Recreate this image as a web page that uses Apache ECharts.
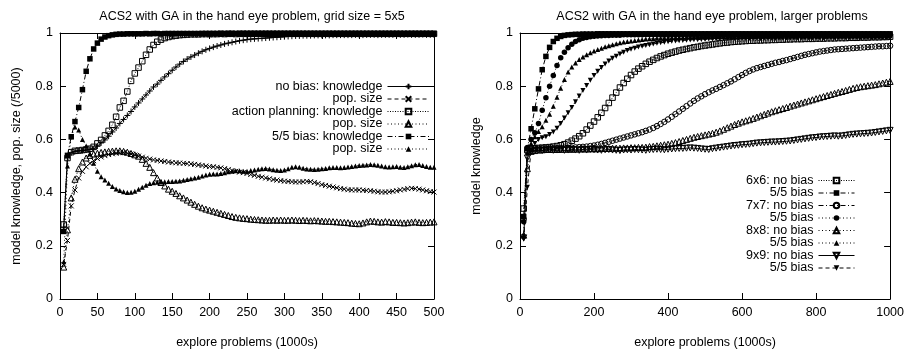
<!DOCTYPE html>
<html><head><meta charset="utf-8">
<script src="https://cdn.jsdelivr.net/npm/echarts@6/dist/echarts.min.js"></script>
<style>html,body{margin:0;padding:0;background:#fff}#c{width:907px;height:354px}</style>
</head><body><div id="c"></div>
<script>
// ---------- x sample points ----------
const xLeft = [5,10,15,20,25,30,35,40,45,50,55,60,65,70,75,80,85,90,95,100,
105,110,115,120,125,130,135,140,145,150,155,160,165,170,175,180,185,190,195,200,
205,210,215,220,225,230,235,240,245,250,255,260,265,270,275,280,285,290,295,300,
305,310,315,320,325,330,335,340,345,350,355,360,365,370,375,380,385,390,395,400,
405,410,415,420,425,430,435,440,445,450,455,460,465,470,475,480,485,490,495,500];
const xRight = [10,20,30,40,50,60,70,80,90,100,110,120,130,140,150,160,170,180,190,200,
210,220,230,240,250,260,270,280,290,300,310,320,330,340,350,360,370,380,390,400,
410,420,430,440,450,460,470,480,490,500,510,520,530,540,550,560,570,580,590,600,
610,620,630,640,650,660,670,680,690,700,710,720,730,740,750,760,770,780,790,800,
810,820,830,840,850,860,870,880,890,900,910,920,930,940,950,960,970,980,990,1000];

// ---------- left panel: grid size 5x5 ----------
const noBiasKnowledge = [0.27,0.53,0.55,0.555,0.557,0.558,0.56,0.562,0.565,0.575,
0.587,0.598,0.612,0.628,0.643,0.66,0.675,0.69,0.705,0.722,
0.737,0.752,0.767,0.782,0.797,0.808,0.822,0.835,0.847,0.86,
0.872,0.883,0.893,0.902,0.91,0.917,0.924,0.931,0.937,0.942,
0.947,0.951,0.955,0.959,0.962,0.965,0.968,0.971,0.973,0.975,
0.977,0.978,0.979,0.98,0.981,0.982,0.983,0.984,0.985,0.986,
0.987,0.988,0.989,0.989,0.99,0.99,0.99,0.991,0.991,0.991,
0.991,0.991,0.992,0.992,0.992,0.992,0.992,0.992,0.993,0.992,
0.992,0.993,0.993,0.993,0.992,0.993,0.993,0.993,0.993,0.993,
0.993,0.993,0.994,0.993,0.993,0.993,0.994,0.993,0.993,0.993];
const noBiasPop = [0.13,0.22,0.35,0.41,0.455,0.48,0.497,0.51,0.52,0.528,
0.534,0.539,0.543,0.546,0.548,0.55,0.55,0.548,0.545,0.541,
0.537,0.533,0.529,0.526,0.523,0.521,0.519,0.517,0.515,0.513,
0.512,0.511,0.51,0.509,0.508,0.506,0.504,0.502,0.5,0.498,
0.497,0.495,0.493,0.49,0.487,0.483,0.48,0.477,0.475,0.472,
0.468,0.465,0.461,0.458,0.455,0.452,0.449,0.447,0.445,0.443,
0.442,0.441,0.44,0.44,0.441,0.442,0.441,0.438,0.434,0.43,
0.427,0.424,0.421,0.418,0.415,0.413,0.411,0.41,0.41,0.41,
0.409,0.408,0.407,0.405,0.403,0.402,0.402,0.403,0.405,0.407,
0.41,0.412,0.415,0.416,0.415,0.413,0.41,0.407,0.404,0.402];
const apKnowledge = [0.28,0.53,0.552,0.557,0.558,0.56,0.562,0.565,0.572,0.585,
0.598,0.615,0.632,0.655,0.685,0.72,0.745,0.78,0.82,0.848,
0.87,0.894,0.918,0.938,0.955,0.967,0.975,0.981,0.985,0.988,
0.99,0.992,0.993,0.994,0.995,0.995,0.995,0.996,0.996,0.996,
0.996,0.996,0.997,0.996,0.997,0.997,0.996,0.997,0.997,0.997,
0.997,0.997,0.997,0.997,0.997,0.997,0.997,0.997,0.997,0.997,
0.997,0.997,0.997,0.997,0.997,0.997,0.997,0.997,0.997,0.997,
0.997,0.997,0.997,0.997,0.997,0.997,0.997,0.997,0.997,0.997,
0.997,0.997,0.997,0.997,0.997,0.997,0.997,0.997,0.997,0.997,
0.997,0.997,0.997,0.997,0.997,0.997,0.997,0.997,0.997,0.997];
const apPop = [0.12,0.26,0.38,0.45,0.49,0.515,0.53,0.54,0.545,0.548,
0.551,0.553,0.555,0.556,0.557,0.557,0.555,0.552,0.547,0.542,
0.537,0.525,0.51,0.495,0.475,0.455,0.438,0.425,0.413,0.405,
0.397,0.388,0.38,0.372,0.364,0.356,0.349,0.343,0.338,0.334,
0.33,0.326,0.322,0.318,0.314,0.31,0.307,0.305,0.303,0.302,
0.3,0.299,0.298,0.297,0.296,0.296,0.297,0.296,0.297,0.296,
0.296,0.297,0.296,0.295,0.296,0.295,0.294,0.295,0.294,0.293,
0.292,0.292,0.291,0.29,0.289,0.288,0.287,0.285,0.284,0.283,
0.286,0.29,0.293,0.292,0.29,0.289,0.291,0.29,0.288,0.288,
0.287,0.286,0.287,0.289,0.29,0.288,0.287,0.288,0.289,0.29];
const biasKnowledge = [0.254,0.54,0.61,0.667,0.72,0.787,0.856,0.903,0.94,0.962,
0.977,0.985,0.99,0.993,0.995,0.996,0.996,0.997,0.997,0.997,
0.997,0.997,0.998,0.997,0.998,0.998,0.997,0.998,0.998,0.998,
0.998,0.998,0.998,0.998,0.998,0.998,0.998,0.998,0.998,0.998,
0.998,0.998,0.998,0.998,0.998,0.998,0.998,0.998,0.998,0.998,
0.998,0.998,0.998,0.998,0.998,0.998,0.998,0.998,0.998,0.998,
0.998,0.998,0.998,0.998,0.998,0.998,0.998,0.998,0.998,0.998,
0.998,0.998,0.998,0.998,0.998,0.998,0.998,0.998,0.998,0.998,
0.998,0.998,0.998,0.998,0.998,0.998,0.998,0.998,0.998,0.998,
0.998,0.998,0.998,0.998,0.998,0.998,0.998,0.998,0.998,0.998];
const biasPop = [0.14,0.5,0.61,0.647,0.635,0.6,0.575,0.545,0.51,0.48,
0.46,0.447,0.435,0.423,0.414,0.408,0.403,0.4,0.401,0.405,
0.413,0.42,0.428,0.434,0.437,0.439,0.44,0.441,0.442,0.442,
0.443,0.444,0.446,0.449,0.452,0.455,0.458,0.462,0.466,0.469,
0.47,0.47,0.472,0.475,0.478,0.48,0.482,0.482,0.48,0.48,
0.483,0.485,0.488,0.49,0.491,0.489,0.486,0.484,0.483,0.485,
0.49,0.495,0.497,0.495,0.492,0.489,0.488,0.487,0.488,0.49,
0.491,0.493,0.494,0.494,0.493,0.494,0.496,0.498,0.5,0.502,
0.503,0.504,0.506,0.505,0.503,0.5,0.497,0.496,0.497,0.498,
0.495,0.494,0.497,0.501,0.505,0.506,0.502,0.498,0.495,0.495];

// ---------- right panel: larger problems ----------
const g6NoBias = [0.34,0.56,0.565,0.567,0.568,0.569,0.57,0.571,0.573,0.575,
0.578,0.582,0.588,0.595,0.603,0.612,0.623,0.637,0.652,0.667,
0.683,0.7,0.718,0.737,0.757,0.776,0.795,0.812,0.828,0.842,
0.855,0.866,0.875,0.884,0.892,0.899,0.906,0.912,0.917,0.922,
0.926,0.93,0.934,0.937,0.94,0.943,0.946,0.948,0.951,0.953,
0.955,0.957,0.959,0.961,0.963,0.964,0.966,0.967,0.968,0.969,
0.97,0.971,0.971,0.972,0.972,0.973,0.973,0.974,0.974,0.975,
0.975,0.976,0.976,0.977,0.977,0.977,0.978,0.978,0.978,0.979,
0.979,0.979,0.98,0.98,0.98,0.981,0.981,0.981,0.982,0.982,
0.982,0.983,0.983,0.983,0.984,0.984,0.984,0.985,0.985,0.986];
const g6Bias = [0.31,0.565,0.64,0.715,0.79,0.862,0.912,0.946,0.968,0.98,
0.987,0.991,0.993,0.994,0.995,0.995,0.996,0.996,0.996,0.996,
0.997,0.997,0.997,0.997,0.997,0.997,0.997,0.997,0.997,0.997,
0.997,0.997,0.997,0.997,0.997,0.997,0.997,0.997,0.997,0.997,
0.997,0.997,0.997,0.997,0.997,0.997,0.997,0.997,0.997,0.997,
0.997,0.997,0.997,0.997,0.997,0.997,0.997,0.997,0.997,0.997,
0.997,0.997,0.997,0.997,0.997,0.997,0.997,0.997,0.997,0.997,
0.997,0.997,0.997,0.997,0.997,0.997,0.997,0.997,0.997,0.997,
0.997,0.997,0.997,0.997,0.997,0.997,0.997,0.997,0.997,0.997,
0.997,0.997,0.997,0.997,0.997,0.997,0.997,0.997,0.997,0.997];
const g7NoBias = [0.3,0.555,0.563,0.565,0.565,0.566,0.566,0.566,0.567,0.567,
0.567,0.568,0.568,0.569,0.57,0.571,0.572,0.573,0.575,0.577,
0.58,0.583,0.587,0.591,0.595,0.599,0.603,0.607,0.611,0.615,
0.619,0.623,0.627,0.632,0.637,0.643,0.65,0.658,0.666,0.675,
0.685,0.695,0.705,0.715,0.725,0.735,0.745,0.754,0.762,0.77,
0.777,0.784,0.79,0.797,0.804,0.811,0.818,0.826,0.834,0.842,
0.85,0.857,0.863,0.868,0.872,0.876,0.88,0.884,0.888,0.891,
0.895,0.898,0.902,0.906,0.91,0.914,0.918,0.921,0.924,0.927,
0.93,0.932,0.934,0.936,0.938,0.939,0.94,0.941,0.942,0.943,
0.944,0.945,0.946,0.947,0.948,0.949,0.95,0.95,0.951,0.952];
const g7Bias = [0.29,0.57,0.6,0.625,0.66,0.71,0.757,0.8,0.84,0.878,
0.907,0.928,0.945,0.958,0.968,0.975,0.98,0.983,0.986,0.988,
0.989,0.99,0.991,0.991,0.992,0.992,0.992,0.993,0.993,0.993,
0.993,0.993,0.993,0.994,0.994,0.994,0.994,0.994,0.994,0.994,
0.994,0.994,0.994,0.994,0.994,0.994,0.994,0.994,0.994,0.994,
0.995,0.995,0.995,0.995,0.995,0.995,0.995,0.995,0.995,0.995,
0.995,0.995,0.995,0.995,0.995,0.995,0.995,0.995,0.995,0.995,
0.995,0.995,0.995,0.995,0.995,0.995,0.995,0.995,0.995,0.995,
0.995,0.995,0.995,0.995,0.995,0.995,0.995,0.995,0.995,0.995,
0.995,0.995,0.995,0.995,0.995,0.995,0.995,0.995,0.995,0.995];
const g8NoBias = [0.24,0.49,0.555,0.558,0.56,0.561,0.562,0.562,0.563,0.562,
0.563,0.563,0.564,0.563,0.564,0.564,0.565,0.564,0.565,0.565,
0.565,0.566,0.566,0.566,0.567,0.567,0.567,0.568,0.568,0.569,
0.569,0.57,0.57,0.571,0.573,0.574,0.576,0.578,0.58,0.582,
0.585,0.588,0.592,0.596,0.6,0.604,0.608,0.611,0.614,0.617,
0.62,0.623,0.627,0.632,0.638,0.644,0.65,0.656,0.661,0.666,
0.67,0.674,0.679,0.684,0.689,0.694,0.699,0.704,0.708,0.712,
0.716,0.72,0.725,0.729,0.733,0.737,0.741,0.745,0.749,0.753,
0.757,0.761,0.765,0.769,0.773,0.777,0.78,0.784,0.788,0.792,
0.795,0.798,0.8,0.802,0.804,0.806,0.809,0.812,0.815,0.818];
const g8Bias = [0.24,0.55,0.585,0.61,0.63,0.648,0.672,0.695,0.725,0.758,
0.792,0.825,0.853,0.872,0.887,0.9,0.91,0.918,0.926,0.932,
0.938,0.943,0.948,0.952,0.956,0.96,0.963,0.966,0.968,0.97,
0.972,0.974,0.976,0.977,0.978,0.979,0.98,0.981,0.982,0.982,
0.983,0.983,0.984,0.984,0.985,0.985,0.985,0.986,0.986,0.986,
0.986,0.987,0.987,0.987,0.987,0.987,0.988,0.988,0.988,0.988,
0.988,0.988,0.988,0.989,0.989,0.989,0.989,0.989,0.989,0.989,
0.989,0.989,0.989,0.989,0.99,0.99,0.99,0.99,0.99,0.99,
0.99,0.99,0.99,0.99,0.99,0.99,0.99,0.99,0.99,0.99,
0.99,0.99,0.99,0.99,0.99,0.99,0.99,0.99,0.99,0.99];
const g9NoBias = [0.23,0.53,0.555,0.558,0.56,0.558,0.56,0.561,0.559,0.56,
0.561,0.559,0.56,0.562,0.56,0.559,0.561,0.56,0.562,0.561,
0.56,0.559,0.561,0.562,0.56,0.559,0.558,0.56,0.561,0.56,
0.562,0.561,0.56,0.559,0.561,0.562,0.563,0.562,0.561,0.563,
0.564,0.565,0.566,0.566,0.567,0.568,0.567,0.566,0.564,0.563,
0.562,0.565,0.567,0.569,0.571,0.573,0.575,0.577,0.578,0.58,
0.581,0.582,0.584,0.586,0.587,0.588,0.589,0.59,0.59,0.591,
0.592,0.593,0.594,0.596,0.598,0.6,0.602,0.604,0.606,0.607,
0.609,0.61,0.611,0.612,0.613,0.612,0.613,0.615,0.617,0.619,
0.62,0.621,0.622,0.623,0.624,0.626,0.628,0.63,0.632,0.634];
const g9Bias = [0.225,0.42,0.56,0.585,0.6,0.606,0.61,0.618,0.628,0.642,
0.66,0.68,0.7,0.72,0.742,0.763,0.784,0.803,0.822,0.84,
0.856,0.87,0.883,0.895,0.905,0.913,0.921,0.928,0.934,0.939,
0.943,0.947,0.95,0.953,0.956,0.959,0.961,0.963,0.965,0.967,
0.969,0.97,0.971,0.972,0.973,0.974,0.975,0.975,0.976,0.976,
0.977,0.977,0.977,0.978,0.978,0.978,0.978,0.979,0.979,0.979,
0.979,0.979,0.98,0.98,0.98,0.98,0.98,0.98,0.98,0.98,
0.981,0.981,0.981,0.981,0.981,0.981,0.981,0.981,0.981,0.981,
0.981,0.981,0.982,0.982,0.982,0.982,0.982,0.982,0.982,0.982,
0.982,0.982,0.982,0.982,0.982,0.982,0.982,0.982,0.982,0.982];

// ---------- texts ----------
const leftTitle = 'ACS2 with GA in the hand eye problem, grid size = 5x5';
const rightTitle = 'ACS2 with GA in the hand eye problem, larger problems';
const xName = 'explore problems (1000s)';
const leftYName = 'model knowledge, pop. size (/5000)';
const rightYName = 'model knowledge';

const FONT = '"Liberation Sans", Arial, Helvetica, sans-serif';
const FS = 12.5;
const PLUS = 'path://M0,5L10,5M5,0L5,10';
const CROSS = 'path://M0,0L10,10M10,0L0,10';

function pairs(xs, ys) { return xs.map((x, i) => [x, ys[i]]); }

function mk(name, xs, ys, axis, sym, open, dash, size, rotate) {
  return {
    type: 'line', name: name, data: pairs(xs, ys),
    xAxisIndex: axis, yAxisIndex: axis,
    symbol: sym, symbolSize: size, symbolRotate: rotate || 0,
    showSymbol: true, showAllSymbol: true, animation: false, clip: true,
    lineStyle: { color: '#000', width: 1, type: dash },
    itemStyle: open
      ? { color: 'none', borderColor: '#000', borderWidth: 1 }
      : { color: '#000', borderColor: '#000', borderWidth: (sym.indexOf('path') === 0 ? 1 : 0) },
    emphasis: { disabled: true }
  };
}

const DASHED = [4, 3];
const DOT_FINE = [1, 1.5];
const DOT = [1, 2.5];
const DASHDOT = [5, 2.5, 1, 2.5];

const series = [
  mk('no bias: knowledge#1', xLeft, noBiasKnowledge, 0, PLUS, false, 'solid', 6),
  mk('pop. size#1', xLeft, noBiasPop, 0, CROSS, false, DASHED, 5),
  mk('action planning: knowledge#1', xLeft, apKnowledge, 0, 'rect', true, DOT_FINE, 5.5),
  mk('pop. size#2', xLeft, apPop, 0, 'triangle', true, DOT, 6),
  mk('5/5 bias: knowledge#1', xLeft, biasKnowledge, 0, 'rect', false, DASHDOT, 5.5),
  mk('pop. size#3', xLeft, biasPop, 0, 'triangle', false, DOT, 5),

  mk('6x6: no bias#1', xRight, g6NoBias, 2, 'rect', true, DOT_FINE, 5.5),
  mk('5/5 bias#1', xRight, g6Bias, 2, 'rect', false, DASHDOT, 5.5),
  mk('7x7: no bias#1', xRight, g7NoBias, 2, 'circle', true, DASHDOT, 5.5),
  mk('5/5 bias#2', xRight, g7Bias, 2, 'circle', false, DOT, 5.5),
  mk('8x8: no bias#1', xRight, g8NoBias, 2, 'triangle', true, DOT, 6),
  mk('5/5 bias#3', xRight, g8Bias, 2, 'triangle', false, DOT, 5),
  mk('9x9: no bias#1', xRight, g9NoBias, 2, 'triangle', true, 'solid', 6, 180),
  mk('5/5 bias#4', xRight, g9Bias, 2, 'triangle', false, DASHED, 5, 180)
];

const txt = { fontFamily: FONT, fontSize: FS, color: '#000' };
const plainNum = function (v) { return String(v); };

function bottomX(grid, max, interval) {
  return { type: 'value', gridIndex: grid, min: 0, max: max, interval: interval, position: 'bottom',
    name: xName, nameLocation: 'middle', nameGap: 37, nameTextStyle: txt,
    axisLine: { show: true, onZero: false, lineStyle: { color: '#000', width: 1 } },
    axisTick: { show: true, inside: true, length: 6, lineStyle: { color: '#000', width: 1 } },
    axisLabel: Object.assign({ show: true, margin: 7, formatter: plainNum, hideOverlap: false }, txt),
    splitLine: { show: false } };
}
function topX(grid, max, interval) {
  return { type: 'value', gridIndex: grid, min: 0, max: max, interval: interval, position: 'top',
    axisLine: { show: true, onZero: false, lineStyle: { color: '#000', width: 1 } },
    axisTick: { show: true, inside: true, length: 6, lineStyle: { color: '#000', width: 1 } },
    axisLabel: { show: false }, splitLine: { show: false } };
}
function leftY(grid, name) {
  return { type: 'value', gridIndex: grid, min: 0, max: 1, interval: 0.2, position: 'left',
    name: name, nameLocation: 'middle', nameGap: 37, nameTextStyle: txt,
    axisLine: { show: true, onZero: false, lineStyle: { color: '#000', width: 1 } },
    axisTick: { show: true, inside: true, length: 6, lineStyle: { color: '#000', width: 1 } },
    axisLabel: Object.assign({ show: true, margin: 7 }, txt),
    splitLine: { show: false } };
}
function rightY(grid) {
  return { type: 'value', gridIndex: grid, min: 0, max: 1, interval: 0.2, position: 'right',
    axisLine: { show: true, onZero: false, lineStyle: { color: '#000', width: 1 } },
    axisTick: { show: true, inside: true, length: 6, lineStyle: { color: '#000', width: 1 } },
    axisLabel: { show: false }, splitLine: { show: false } };
}

const legendBase = {
  orient: 'vertical', align: 'right', padding: 0, itemHeight: 7, itemGap: -0.5,
  selectedMode: false,
  lineStyle: { width: 1 },
  textStyle: Object.assign({ lineHeight: 12 }, txt),
  formatter: function (n) { return n.split('#')[0]; }
};

const option = {
  backgroundColor: '#fff',
  animation: false,
  title: [
    { text: leftTitle, left: 247, top: 5, textAlign: 'center', textStyle: Object.assign({ fontWeight: 'normal' }, txt) },
    { text: rightTitle, left: 707, top: 5, textAlign: 'center', textStyle: Object.assign({ fontWeight: 'normal' }, txt) }
  ],
  grid: [
    { left: 60, top: 33, width: 374, height: 266 },
    { left: 520, top: 33, width: 374, height: 266 }
  ],
  xAxis: [bottomX(0, 500, 50), topX(0, 500, 50), bottomX(1, 1000, 200), topX(1, 1000, 200)],
  yAxis: [leftY(0, leftYName), rightY(0), leftY(1, rightYName), rightY(1)],
  legend: [
    Object.assign({}, legendBase, { right: 477, top: 80, itemWidth: 42,
      data: series.slice(0, 6).map(s => s.name) }),
    Object.assign({}, legendBase, { right: 52, top: 174, itemWidth: 36,
      data: series.slice(6).map(s => s.name) })
  ],
  series: series
};
const chart = echarts.init(document.getElementById('c'), null, { renderer: 'canvas' });
chart.setOption(option);
</script>
</body></html>
